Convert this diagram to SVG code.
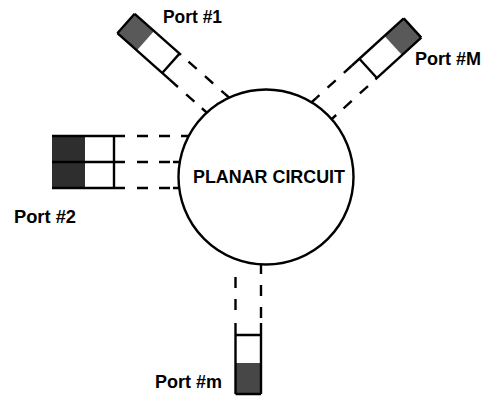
<svg xmlns="http://www.w3.org/2000/svg" width="485" height="397" viewBox="0 0 485 397">
<style>
.ln{stroke:#000;stroke-width:2.4;fill:none;stroke-linecap:butt}
.ds{stroke:#000;stroke-width:2.4;fill:none;stroke-dasharray:11 11}
.dk{fill:#2e2e2e}
.md{fill:#474747}
.lt{fill:#595959}
.lbl{font-family:"Liberation Sans",Arial,sans-serif;font-weight:bold;font-size:18px;fill:#000}
</style>
<rect width="485" height="397" fill="#fff"/>
<g id="circuit">
<circle cx="266" cy="177" r="87.5" class="ln" stroke-width="2.6"/>
<text class="lbl" x="193" y="183" textLength="152" lengthAdjust="spacingAndGlyphs">PLANAR CIRCUIT</text>
</g>
<g id="port1" transform="translate(126,23.5) rotate(41.6)">
<rect x="0" y="-13" width="26" height="26" class="lt"/>
<path class="ln" d="M0,-13H62M0,13H70M60,-13V13M0,-13V13"/>
</g>
<text class="lbl" x="163" y="23" textLength="59" lengthAdjust="spacingAndGlyphs">Port #1</text>
<g id="portM" transform="translate(412.5,28) rotate(137.7)">
<rect x="0" y="-13" width="26" height="26" class="lt"/>
<path class="ln" d="M0,-13H62M0,13H70M60,-13V13M0,-13V13"/>
</g>
<text class="lbl" x="415" y="65" textLength="66" lengthAdjust="spacingAndGlyphs">Port #M</text>
<g id="port2">
<rect x="52" y="136" width="33" height="52" class="dk"/>
<line x1="52" y1="161.5" x2="85" y2="161.5" stroke="#aaa" stroke-width="1"/>
<path class="ln" d="M52,136H125M52,162H125M52,188H125M114,136V188"/>
</g>
<text class="lbl" x="14" y="223" textLength="62" lengthAdjust="spacingAndGlyphs">Port #2</text>
<g id="portm">
<rect x="235.5" y="363" width="25.5" height="31" class="md"/>
<path class="ln" d="M235.5,323V394M261,323V394M235.5,335H261M235.5,394H261"/>
</g>
<text class="lbl" x="155" y="388" textLength="67" lengthAdjust="spacingAndGlyphs">Port #m</text>
<g id="connectors">
<g transform="translate(126,23.5) rotate(41.6)">
<path class="ds" d="M72,-13H120M70,13H113"/>
<path class="ln" d="M120,-13H126.5M113,13H120"/>
</g>
<g transform="translate(412.5,28) rotate(137.7)">
<path class="ds" d="M70,13H118M72,-13H115"/>
<path class="ln" d="M118,13H125M115,-13H121.5"/>
</g>
<path class="ds" d="M137,136H182M137,162H173M137,188H173"/>
<path class="ln" d="M182,136H189M173,162H180.5M173,188H180"/>
<path class="ds" d="M235.5,310V266M261,318V270"/>
<path class="ln" d="M261,270V264"/>
</g>
</svg>
